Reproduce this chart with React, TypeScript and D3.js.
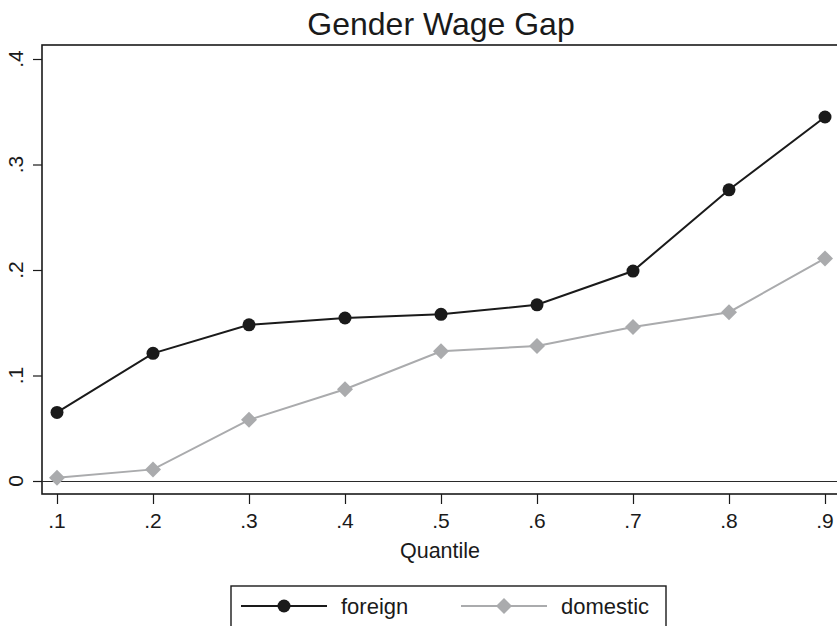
import React from "react";
import * as d3 from "d3";

const quantiles = [0.1, 0.2, 0.3, 0.4, 0.5, 0.6, 0.7, 0.8, 0.9];
const foreign = [0.065, 0.121, 0.148, 0.1545, 0.158, 0.167, 0.199, 0.276, 0.345];
const domestic = [0.003, 0.011, 0.058, 0.087, 0.123, 0.128, 0.146, 0.160, 0.211];
const yTicks = [0, 0.1, 0.2, 0.3, 0.4];
const yTickLabels = ["0", ".1", ".2", ".3", ".4"];
const xTickLabels = [".1", ".2", ".3", ".4", ".5", ".6", ".7", ".8", ".9"];

const W = 837, H = 626;
const left = 42, top = 45, right = 842, bottom = 494;

export default function App() {
  const x = d3.scaleLinear().domain([0.1, 0.9]).range([57, 825]);
  const y = d3.scaleLinear().domain([0, 0.4]).range([481, 59]);
  const line = d3.line<number>().x((_, i) => x(quantiles[i])).y((d) => y(d));
  const font = "'Liberation Sans', Arial, sans-serif";
  const diamond = (cx: number, cy: number, r: number) =>
    `M${cx},${cy - r}L${cx + r},${cy}L${cx},${cy + r}L${cx - r},${cy}Z`;
  return (
    <svg width={W} height={H} style={{ position: "absolute", left: 0, top: 0, background: "#fff" }} fontFamily={font}>
      <rect x={0} y={0} width={W} height={H} fill="#fff" />
      <text x={441} y={35} textAnchor="middle" fontSize={32} fill="#1a1a1a">Gender Wage Gap</text>
      {/* plot frame */}
      <rect x={left} y={top} width={right - left} height={bottom - top} fill="none" stroke="#1a1a1a" strokeWidth={1.6} />
      {/* zero line */}
      <line x1={left} x2={W} y1={y(0) + 0.5} y2={y(0) + 0.5} stroke="#2a2a2a" strokeWidth={1.2} />
      {/* y ticks */}
      {yTicks.map((t, i) => (
        <g key={i}>
          <line x1={33} x2={left} y1={y(t) + 0.5} y2={y(t) + 0.5} stroke="#1a1a1a" strokeWidth={1.2} />
          <text transform={`translate(${23},${y(t)}) rotate(-90)`} textAnchor="middle" fontSize={21} fill="#1a1a1a">{yTickLabels[i]}</text>
        </g>
      ))}
      {/* x ticks */}
      {quantiles.map((q, i) => (
        <g key={i}>
          <line x1={x(q) + 0.5} x2={x(q) + 0.5} y1={bottom} y2={504} stroke="#1a1a1a" strokeWidth={1.2} />
          <text x={x(q)} y={528} textAnchor="middle" fontSize={21} fill="#1a1a1a">{xTickLabels[i]}</text>
        </g>
      ))}
      <text x={440} y={558} textAnchor="middle" fontSize={21.5} fill="#1a1a1a">Quantile</text>
      {/* domestic */}
      <path d={line(domestic) || ""} fill="none" stroke="#aaabad" strokeWidth={2} />
      {domestic.map((d, i) => (
        <path key={i} d={diamond(x(quantiles[i]), y(d), 8)} fill="#aaabad" />
      ))}
      {/* foreign */}
      <path d={line(foreign) || ""} fill="none" stroke="#1a1a1a" strokeWidth={2} />
      {foreign.map((d, i) => (
        <circle key={i} cx={x(quantiles[i])} cy={y(d)} r={6.5} fill="#1a1a1a" />
      ))}
      {/* legend */}
      <rect x={231} y={586} width={435} height={50} fill="#fff" stroke="#1a1a1a" strokeWidth={1.4} />
      <line x1={241} x2={327} y1={606} y2={606} stroke="#1a1a1a" strokeWidth={2} />
      <circle cx={284} cy={606} r={6.5} fill="#1a1a1a" />
      <text x={341} y={614} fontSize={22} fill="#1a1a1a">foreign</text>
      <line x1={461} x2={547} y1={606} y2={606} stroke="#aaabad" strokeWidth={2} />
      <path d={diamond(504, 606, 8)} fill="#aaabad" />
      <text x={561} y={614} fontSize={22} fill="#1a1a1a">domestic</text>
    </svg>
  );
}
